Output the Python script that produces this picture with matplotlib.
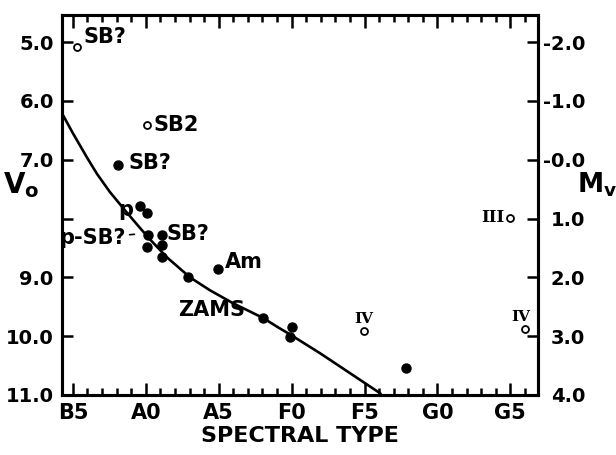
import numpy as np
import matplotlib
matplotlib.use('Agg')
import matplotlib.pyplot as plt

plt.rcParams['font.family'] = ['DejaVu Sans']
plt.rcParams['font.weight'] = 'bold'

# spectral subclass: B5=0, A0=5, A5=10, F0=15, F5=20, G0=25, G5=30
sp_ticks = [0, 5, 10, 15, 20, 25, 30]
sp_labels = ['B5', 'A0', 'A5', 'F0', 'F5', 'G0', 'G5']

# ZAMS curve
zams_sp = [-0.75, 0.0, 0.96, 1.65, 2.54, 3.57, 4.6, 5.42, 6.45, 8.03, 9.4, 10.98,
           13.04, 14.07, 14.89, 16.95, 19.01, 21.07, 21.3]
zams_v = [6.21, 6.55, 6.96, 7.24, 7.55, 7.86, 8.16, 8.39, 8.66, 9.00, 9.22, 9.44,
          9.69, 9.85, 9.97, 10.29, 10.63, 10.97, 11.05]

# filled points
fill_sp = [3.1, 4.6, 5.08, 5.15, 5.08, 6.1, 6.1, 6.1, 7.9, 9.95, 13.05, 15.03, 14.9, 22.85]
fill_v = [7.09, 7.79, 7.91, 8.28, 8.49, 8.28, 8.45, 8.66, 9.00, 8.86, 9.69, 9.85, 10.02, 10.54]

# open points
open_sp = [0.27, 5.08, 30.0, 19.97, 31.0]
open_v = [5.09, 6.41, 7.99, 9.92, 9.88]

fig = plt.figure(figsize=(6.16, 4.55), dpi=100)
ax = fig.add_axes([0.1006, 0.1319, 0.7728, 0.8351])

ax.plot(zams_sp, zams_v, '-', color='black', lw=1.9, solid_joinstyle='round')
ax.plot(fill_sp, fill_v, 'o', color='black', ms=6.5, zorder=3)
ax.plot(open_sp, open_v, 'o', mfc='white', mec='black', mew=1.3, ms=5, zorder=3)

ax.set_xlim(-0.75, 31.9)
ax.set_ylim(11.0, 4.54)

ax.set_xticks(sp_ticks)
ax.set_xticklabels(sp_labels, fontsize=15)
ax.set_xticks(np.arange(0, 32), minor=True)
ax.tick_params(axis='x', which='both', direction='in', top=True, bottom=True, width=1.8)
ax.tick_params(axis='x', which='major', length=9, pad=6)
ax.tick_params(axis='x', which='minor', length=5)

v_ticks = [5, 6, 7, 8, 9, 10, 11]
v_labels = ['5.0', '6.0', '7.0', '', '9.0', '10.0', '11.0']
ax.set_yticks(v_ticks)
ax.set_yticklabels(v_labels, fontsize=14)
ax.tick_params(axis='y', which='both', direction='in', left=True, right=False, width=1.8, length=8, pad=6)

for s in ax.spines.values():
    s.set_linewidth(2.2)

ax2 = ax.twinx()
ax2.set_ylim(11.0 - 7.0, 4.54 - 7.0)
mv_ticks = [-2, -1, 0, 1, 2, 3, 4]
mv_labels = ['-2.0', '-1.0', '-0.0', '1.0', '2.0', '3.0', '4.0']
ax2.set_yticks(mv_ticks)
ax2.set_yticklabels(mv_labels, fontsize=14)
ax2.tick_params(axis='y', direction='in', width=1.8, length=8, pad=34)
for lab in ax2.get_yticklabels():
    lab.set_ha('right')
for s in ax2.spines.values():
    s.set_linewidth(2.2)

ax.set_xlabel('SPECTRAL TYPE', fontsize=16, fontweight='bold', labelpad=2)

fig.text(0.005, 0.593, r'$\mathbf{V_o}$', fontsize=20, ha='left', va='center')
fig.text(0.937, 0.593, r'$\mathbf{M_v}$', fontsize=19, ha='left', va='center')

# labels
ax.text(0.7, 4.92, 'SB?', fontsize=15, ha='left', va='center')
ax.text(5.5, 6.41, 'SB2', fontsize=15, ha='left', va='center')
ax.text(3.8, 7.06, 'SB?', fontsize=15, ha='left', va='center')
ax.text(3.6, 7.85, 'p', fontsize=15, ha='center', va='center')
ax.annotate('p-SB?', xy=(4.6, 8.26), xytext=(3.6, 8.33), fontsize=15, ha='right', va='center',
            arrowprops=dict(arrowstyle='-', lw=1.2, color='black', shrinkA=1, shrinkB=4))
ax.text(6.4, 8.26, 'SB?', fontsize=15, ha='left', va='center')
ax.text(10.4, 8.74, 'Am', fontsize=15, ha='left', va='center')
ax.text(9.5, 9.56, 'ZAMS', fontsize=15, ha='center', va='center')
ax.text(29.6, 7.99, 'III', fontsize=12, family='DejaVu Serif', ha='right', va='center')
ax.text(19.97, 9.7, 'IV', fontsize=11, family='DejaVu Serif', ha='center', va='center')
ax.text(30.7, 9.68, 'IV', fontsize=11, family='DejaVu Serif', ha='center', va='center')

fig.savefig('out.png', dpi=100)
